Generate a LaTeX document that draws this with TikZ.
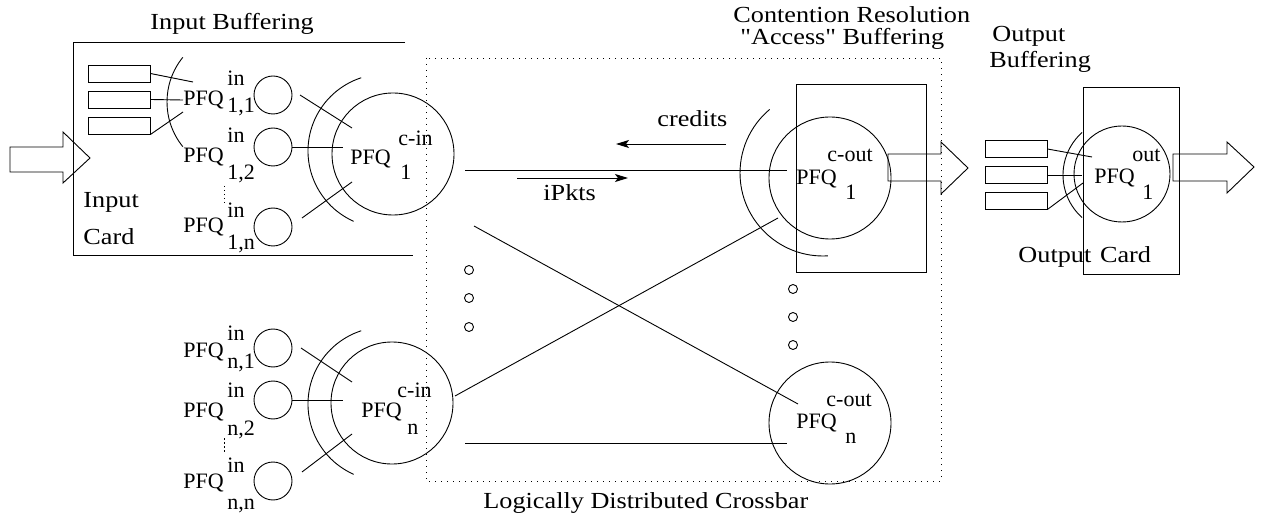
\documentclass[tikz,border=0pt]{standalone}
\usepackage{fontspec}
\setmainfont{Liberation Serif}
\newfontfamily\lblfont[FakeStretch=1.14]{Liberation Serif}
\usetikzlibrary{arrows.meta}
\begin{document}
\begin{tikzpicture}[x=1pt,y=-1pt,line width=0.9pt,
  lbl/.style={font={\lblfont\fontsize{23}{27}\selectfont},inner sep=0pt,anchor=base west},
  pfq/.style={font={\rmfamily\fontsize{22}{26}\selectfont},inner sep=0pt,anchor=base west},
  qbox/.style={draw,minimum width=62pt,minimum height=17pt,inner sep=0pt},
  smallq/.style={draw,circle,minimum size=38pt,inner sep=0pt},
  bigq/.style={draw,circle,minimum size=122pt,inner sep=0pt},
  dotc/.style={draw,circle,minimum size=9pt,inner sep=0pt},
  flowtip/.style={-{Stealth[length=13pt,width=8pt,inset=3pt]}},
  crossbox/.style={dash pattern=on 1.2pt off 4.8pt},
  vdots/.style={dash pattern=on 1.5pt off 2.5pt}]
\useasboundingbox (0,0) rectangle (1261,521);

% ---------- input card ----------
\draw (405,42) -- (73,42) -- (73,255) -- (413,255);
\node[lbl] (tin) at (150,30) {Input Buffering};
\node[lbl] (tinput) at (83,208) {Input};
\node[lbl] (tcard) at (83,245) {Card};
\draw (10,147) -- (63,147) -- (63,132) -- (90,158) -- (63,183) -- (63,172) -- (10,172) -- cycle;

\node[qbox] (q1) at (119,73.5) {};
\node[qbox] (q2) at (119,99.5) {};
\node[qbox] (q3) at (119,125.5) {};
\coordinate (q1e) at (193,82);
\coordinate (q2e) at (183,100);
\coordinate (q3e) at (183,112);
\draw (q1.east) -- (q1e);
\draw (q2.east) -- (q2e);
\draw (q3.south east) -- (q3e);
\draw (238,102) ++(141:71) arc[start angle=141,end angle=219,radius=71];

% per-flow input queues, row 1
\node[smallq] (i11) at (273,95) {};
\node[smallq] (i12) at (273,147) {};
\node[smallq] (i1n) at (273,227) {};
\node[pfq] (p11) at (183,106) {PFQ};
\node[pfq] (p11s) at (227,86) {in};
\node[pfq] (p11b) at (227,113) {1,1};
\node[pfq] (p12) at (183,163) {PFQ};
\node[pfq] (p12s) at (227,143) {in};
\node[pfq] (p12b) at (227,180) {1,2};
\node[pfq] (p1n) at (183,233) {PFQ};
\node[pfq] (p1ns) at (227,218) {in};
\node[pfq] (p1nb) at (227,250) {1,n};
\draw[vdots] (224,186) -- (224,205);

\node[bigq] (cin1) at (393,154) {};
\node[pfq] (pc1) at (350,165) {PFQ};
\node[pfq] (pc1s) at (398,146) {c-in};
\node[pfq] (pc1b) at (400,180) {1};
\draw (385,151) ++(114:77) arc[start angle=114,end angle=252,radius=77];
\coordinate (c1a) at (352,128);
\coordinate (c1b) at (343,147);
\coordinate (c1c) at (352,182);
\draw (300,95) -- (c1a);
\draw (i12.east) -- (c1b);
\draw (302,218) -- (c1c);

% per-flow input queues, row n
\node[smallq] (in1) at (273,348) {};
\node[smallq] (in2) at (273,400) {};
\node[smallq] (inn) at (273,481) {};
\node[pfq] (pn1) at (183,357) {PFQ};
\node[pfq] (pn1s) at (227,341) {in};
\node[pfq] (pn1b) at (227,368) {n,1};
\node[pfq] (pn2) at (183,417) {PFQ};
\node[pfq] (pn2s) at (227,397) {in};
\node[pfq] (pn2b) at (227,435) {n,2};
\node[pfq] (pnn) at (183,488) {PFQ};
\node[pfq] (pnns) at (227,472) {in};
\node[pfq] (pnnb) at (227,509) {n,n};
\draw[vdots] (224,438) -- (224,453);

\node[bigq] (cinn) at (392,403) {};
\node[pfq] (pcn) at (361,417) {PFQ};
\node[pfq] (pcns) at (397,397) {c-in};
\node[pfq] (pcnb) at (407,434) {n};
\draw (385,404) ++(114:77) arc[start angle=114,end angle=252,radius=77];
\coordinate (cna) at (352,382);
\coordinate (cnb) at (343,400);
\coordinate (cnc) at (352,434);
\draw (301,348) -- (cna);
\draw (in2.east) -- (cnb);
\draw (302,472) -- (cnc);

% ---------- crossbar ----------
\draw[crossbox] (426,58) rectangle (941,481);
\node[lbl] (txbar) at (483,508) {Logically Distributed Crossbar};
\node[dotc] (d1) at (469,270) {};
\node[dotc] (d2) at (469,298) {};
\node[dotc] (d3) at (469,327) {};
\node[dotc] (e1) at (793,289) {};
\node[dotc] (e2) at (793,317) {};
\node[dotc] (e3) at (793,345) {};

\coordinate (h1a) at (465,170);
\coordinate (h1b) at (787,170);
\coordinate (h2a) at (465,443);
\coordinate (h2b) at (787,443);
\draw (h1a) -- (h1b);
\draw (h2a) -- (h2b);
\coordinate (x1a) at (474,226);
\coordinate (x1b) at (798,404);
\coordinate (x2a) at (455,396);
\coordinate (x2b) at (778,218);
\draw (x1a) -- (x1b);
\draw (x2a) -- (x2b);

\coordinate (cra) at (726,144);
\coordinate (crb) at (616,144);
\coordinate (ipa) at (517,178);
\coordinate (ipb) at (628,178);
\draw[flowtip] (cra) -- (crb);
\draw[flowtip] (ipa) -- (ipb);
\node[lbl] (tcred) at (657,127) {credits};
\node[lbl] (tipk) at (543,201) {iPkts};

% ---------- contention resolution ----------
\node[lbl] (tcr1) at (733,23) {Contention Resolution};
\node[lbl] (tcr2) at (740,45) {"Access" Buffering};
\draw (796,84) rectangle (926,272);
\node[bigq] (cout1) at (830,178) {};
\node[pfq] (po1) at (796,185) {PFQ};
\node[pfq] (po1s) at (827,162) {c-out};
\node[pfq] (po1b) at (845,200) {1};
\draw (823,173) ++(86.6:83) arc[start angle=86.6,end angle=230,radius=83];
\draw (888,154) -- (941,154) -- (941,142) -- (968,168) -- (941,194) -- (941,181) -- (888,181) -- cycle;

\node[bigq] (coutn) at (830,423) {};
\node[pfq] (pon) at (796,428) {PFQ};
\node[pfq] (pons) at (826,406) {c-out};
\node[pfq] (ponb) at (845,443) {n};

% ---------- output card ----------
\node[lbl] (tob1) at (992,42) {Output};
\node[lbl] (tob2) at (989,68) {Buffering};
\draw (1083,87) rectangle (1179,274);
\node[lbl] (tocard) at (1018,263) {Output\hspace{0.38em}Card};
\node[qbox] (r1) at (1016,149) {};
\node[qbox] (r2) at (1016,175) {};
\node[qbox] (r3) at (1016,200.5) {};
\coordinate (r1e) at (1092,157);
\coordinate (r2e) at (1082,175);
\coordinate (r3e) at (1083,183);
\draw (r1.east) -- (r1e);
\draw (r2.east) -- (r2e);
\draw (r3.south east) -- (r3e);
\draw (1120,175) ++(131.8:57) arc[start angle=131.8,end angle=228.2,radius=57];
\node[draw,circle,minimum size=96pt,inner sep=0pt] (out1) at (1122,174) {};
\node[pfq] (pu) at (1094,184) {PFQ};
\node[pfq] (pus) at (1132,162) {out};
\node[pfq] (pub) at (1142,200) {1};
\draw (1173,154) -- (1227,154) -- (1227,142) -- (1254,167) -- (1227,193) -- (1227,181) -- (1173,181) -- cycle;
\end{tikzpicture}
\end{document}
